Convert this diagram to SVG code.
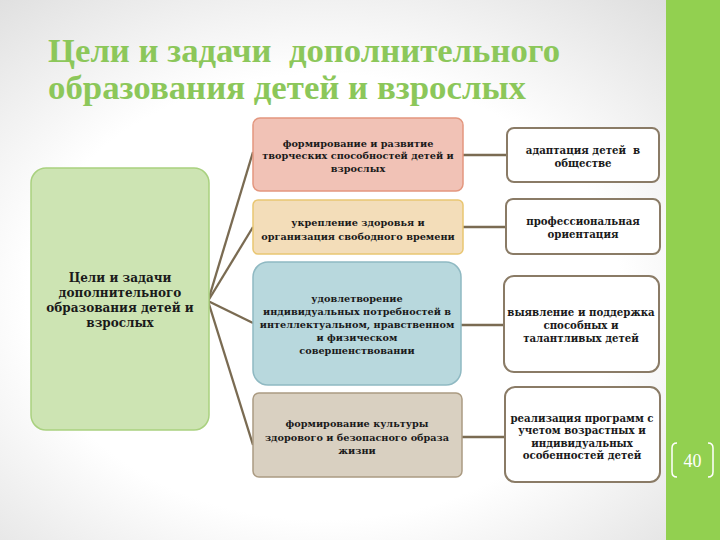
<svg xmlns="http://www.w3.org/2000/svg" width="720" height="540" viewBox="0 0 720 540">
<defs>
<radialGradient id="bg" cx="0.45" cy="0.55" r="0.75">
<stop offset="0.55" stop-color="#ffffff"/>
<stop offset="1" stop-color="#dcdcdc"/>
</radialGradient>
<style>
.t{font-family:"DejaVu Serif","Liberation Serif",serif;font-weight:bold;fill:#1a1a1a;text-anchor:middle}
.m{font-size:9.7px}
.r{font-size:10.2px}
.title{font-family:"Liberation Serif",serif;font-weight:bold;fill:#8cc75a;font-size:33px;white-space:pre}
.rb{fill:#ffffff;stroke:#8a7b66;stroke-width:2}
.con{stroke:#7a6b52;stroke-width:2.3;fill:none}
</style>
</defs>
<rect x="0" y="0" width="720" height="540" fill="url(#bg)"/>
<rect x="666" y="0" width="54" height="540" fill="#92d050"/>
<g id="pagenum">
<path d="M677 443 Q672 443 672 448 L672 472 Q672 477 677 477" fill="none" stroke="#ffffff" stroke-width="1.5"/>
<path d="M708 443 Q713 443 713 448 L713 472 Q713 477 708 477" fill="none" stroke="#ffffff" stroke-width="1.5"/>
<text x="692.5" y="467" font-family="Liberation Serif,serif" font-size="18" fill="#ffffff" text-anchor="middle">40</text>
</g>
<g id="title">
<text class="title" x="48" y="62" textLength="512" lengthAdjust="spacingAndGlyphs">Цели и задачи  дополнительного</text>
<text class="title" x="48" y="99" textLength="478" lengthAdjust="spacingAndGlyphs">образования детей и взрослых</text>
</g>
<g id="connectors">
<line class="con" x1="208" y1="301" x2="253" y2="152"/>
<line class="con" x1="208" y1="301" x2="253" y2="227"/>
<line class="con" x1="208" y1="301" x2="253" y2="323"/>
<line class="con" x1="208" y1="301" x2="253" y2="445"/>
<line class="con" x1="463" y1="155" x2="507" y2="155"/>
<line class="con" x1="463" y1="227" x2="506" y2="227"/>
<line class="con" x1="461" y1="325" x2="504" y2="325"/>
<line class="con" x1="462" y1="437" x2="505" y2="437"/>
</g>
<g id="root">
<rect x="31" y="168" width="178" height="262" rx="15" fill="#cde4b3" stroke="#a9d17f" stroke-width="1.5"/>
<text class="t" font-size="12" x="120" y="282">Цели и задачи</text>
<text class="t" font-size="12" x="120" y="297">дополнительного</text>
<text class="t" font-size="12" x="120" y="312">образования детей и</text>
<text class="t" font-size="12" x="120" y="327">взрослых</text>
</g>
<g id="n1">
<rect x="253" y="118" width="210" height="73" rx="7" fill="#f1c2b6" stroke="#e3977f" stroke-width="1.5"/>
<text class="t m" x="358" y="147">формирование и развитие</text>
<text class="t m" x="358" y="159">творческих способностей детей и</text>
<text class="t m" x="358" y="172">взрослых</text>
</g>
<g id="n2">
<rect x="253" y="200" width="210" height="54" rx="5" fill="#f3ddb9" stroke="#e9c672" stroke-width="1.5"/>
<text class="t m" x="358" y="226">укрепление здоровья и</text>
<text class="t m" x="358" y="240">организация свободного времени</text>
</g>
<g id="n3">
<rect x="253" y="262" width="208" height="123" rx="15" fill="#b8d8dd" stroke="#8fb9c2" stroke-width="1.5"/>
<text class="t m" x="357" y="302">удовлетворение</text>
<text class="t m" x="357" y="315">индивидуальных потребностей в</text>
<text class="t m" x="357" y="328">интеллектуальном, нравственном</text>
<text class="t m" x="357" y="341">и физическом</text>
<text class="t m" x="357" y="354">совершенствовании</text>
</g>
<g id="n4">
<rect x="253" y="393" width="209" height="84" rx="6" fill="#d9d0c1" stroke="#ab9b82" stroke-width="1.5"/>
<text class="t m" x="357" y="427">формирование культуры</text>
<text class="t m" x="357" y="441">здорового и безопасного образа</text>
<text class="t m" x="357" y="454">жизни</text>
</g>
<g id="r1">
<rect class="rb" x="507" y="128" width="152" height="54" rx="7"/>
<text class="t r" x="583" y="154" style="white-space:pre">адаптация детей  в</text>
<text class="t r" x="583" y="167">обществе</text>
</g>
<g id="r2">
<rect class="rb" x="506" y="199" width="154" height="55" rx="7"/>
<text class="t r" x="583" y="225">профессиональная</text>
<text class="t r" x="583" y="238">ориентация</text>
</g>
<g id="r3">
<rect class="rb" x="504" y="276" width="155" height="96" rx="10"/>
<text class="t r" x="581" y="316">выявление и поддержка</text>
<text class="t r" x="581" y="329">способных и</text>
<text class="t r" x="581" y="342">талантливых детей</text>
</g>
<g id="r4">
<rect class="rb" x="505" y="387" width="155" height="95" rx="10"/>
<text class="t r" x="582" y="422">реализация программ с</text>
<text class="t r" x="582" y="434">учетом возрастных и</text>
<text class="t r" x="582" y="447">индивидуальных</text>
<text class="t r" x="582" y="459">особенностей детей</text>
</g>
</svg>
